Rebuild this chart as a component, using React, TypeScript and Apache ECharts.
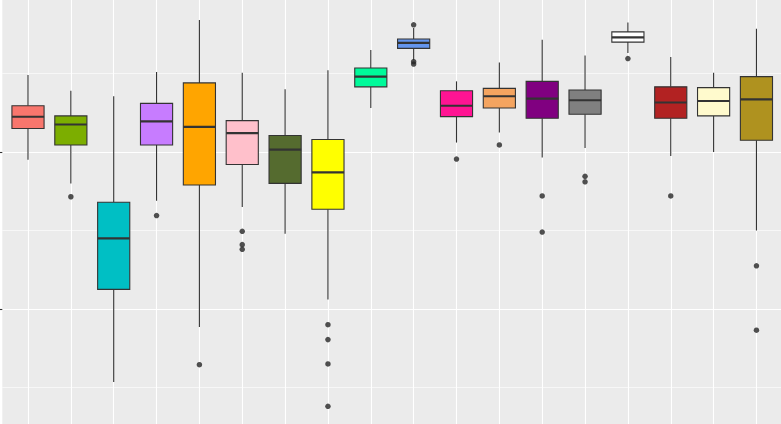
import React, { useEffect, useRef } from "react";
import * as echarts from "echarts";

// 18 groups (names are not visible in the reference)
const categories: string[] = [
  "g01", "g02", "g03", "g04", "g05", "g06", "g07", "g08", "g09",
  "g10", "g11", "g12", "g13", "g14", "g15", "g16", "g17", "g18",
];

const boxColors: string[] = [
  "#F8766D", "#7CAE00", "#00BFC4", "#C77CFF", "#FFA500", "#FFC0CB",
  "#556B2F", "#FFFF00", "#00FA9A", "#6495ED", "#FF1493", "#F4A460",
  "#800080", "#808080", "#FFFFFF", "#B22222", "#FFFACD", "#AF921F",
];

// [lower whisker, Q1, median, Q3, upper whisker]
const boxStats: number[][] = [
  [3.90, 4.30, 4.45, 4.59, 4.98],
  [3.60, 4.09, 4.35, 4.46, 4.78],
  [1.07, 2.25, 2.90, 3.36, 4.71],
  [3.38, 4.09, 4.39, 4.62, 5.02],
  [1.77, 3.58, 4.32, 4.88, 5.68],
  [3.30, 3.84, 4.24, 4.40, 5.01],
  [2.96, 3.60, 4.03, 4.21, 4.80],
  [2.12, 3.27, 3.74, 4.16, 5.04],
  [4.56, 4.83, 4.96, 5.07, 5.30],
  [5.17, 5.32, 5.39, 5.44, 5.58],
  [4.12, 4.45, 4.59, 4.78, 4.90],
  [4.25, 4.56, 4.71, 4.81, 5.14],
  [3.93, 4.43, 4.68, 4.90, 5.43],
  [4.05, 4.48, 4.66, 4.79, 5.23],
  [5.26, 5.40, 5.46, 5.53, 5.65],
  [3.95, 4.43, 4.63, 4.83, 5.21],
  [4.00, 4.46, 4.65, 4.82, 5.01],
  [3.00, 4.15, 4.67, 4.96, 5.57],
];

// outliers: [group index, value]
const outliers: number[][] = [
  [1, 3.43],
  [3, 3.19],
  [4, 1.29],
  [5, 2.99], [5, 2.82], [5, 2.76],
  [7, 1.80], [7, 1.61], [7, 1.30], [7, 0.76],
  [9, 5.62], [9, 5.15], [9, 5.12],
  [10, 3.91],
  [11, 4.09],
  [12, 3.44], [12, 2.98],
  [13, 3.69], [13, 3.62],
  [14, 5.19],
  [15, 3.44],
  [17, 2.55], [17, 1.73],
];

// half-step positions used to draw vertical grid lines at group centres
const halfSteps: string[] = Array.from({ length: 37 }, (_, k) => String(k));

const Y_MIN = 0;
const Y_MAX = 6;

export default function App() {
  const ref = useRef<HTMLDivElement>(null);

  useEffect(() => {
    if (!ref.current) return;
    const chart = echarts.init(ref.current, undefined, { renderer: "svg" });

    const band = 42.85;
    const left1 = 28 - band / 2;
    const width1 = band * categories.length;

    const boxData = boxStats.map((s, i) => ({
      value: [i, ...s],
      itemStyle: { color: boxColors[i] },
    }));

    const option: any = {
      animation: false,
      backgroundColor: "#FFFFFF",
      grid: [
        {
          left: 2.3,
          width: 780,
          top: -5,
          height: 471,
          show: true,
          backgroundColor: "#EBEBEB",
          borderWidth: 0,
          outerBoundsMode: "none",
        },
        {
          left: left1,
          width: width1,
          top: -5,
          height: 471,
          outerBoundsMode: "none",
        },
      ],
      xAxis: [
        { type: "value", gridIndex: 0, show: false, min: 0, max: 1 },
        {
          type: "category",
          gridIndex: 1,
          data: categories,
          boundaryGap: true,
          show: false,
        },
        {
          type: "category",
          gridIndex: 1,
          data: halfSteps,
          boundaryGap: false,
          position: "top",
          show: true,
          axisLine: { show: false },
          axisTick: { show: false },
          axisLabel: { show: false },
          splitLine: {
            show: true,
            interval: (idx: number) => idx % 2 === 1,
            lineStyle: { color: "#FFFFFF", width: 1.1 },
          },
        },
      ],
      yAxis: [
        {
          type: "value",
          gridIndex: 0,
          min: Y_MIN,
          max: Y_MAX,
          interval: 2,
          axisLine: { show: false },
          axisLabel: { show: false },
          axisTick: {
            show: true,
            length: 2.3,
            lineStyle: { color: "#333333", width: 1.1 },
          },
          splitLine: { show: true, lineStyle: { color: "#FFFFFF", width: 1.1 } },
          minorTick: { show: false, splitNumber: 2 },
          minorSplitLine: {
            show: true,
            lineStyle: { color: "#FFFFFF", width: 0.6 },
          },
        },
        {
          type: "value",
          gridIndex: 1,
          min: Y_MIN,
          max: Y_MAX,
          show: false,
        },
      ],
      series: [
        {
          type: "custom",
          xAxisIndex: 1,
          yAxisIndex: 1,
          data: boxData,
          z: 3,
          renderItem: (params: any, api: any) => {
            const x = api.value(0);
            const lo = api.coord([x, api.value(1)]);
            const q1 = api.coord([x, api.value(2)]);
            const med = api.coord([x, api.value(3)]);
            const q3 = api.coord([x, api.value(4)]);
            const hi = api.coord([x, api.value(5)]);
            const bw = api.size([1, 0])[0];
            const hw = bw * 0.375;
            const cx = med[0];
            const fill = api.visual("color");
            const stroke = "#333333";
            return {
              type: "group",
              children: [
                {
                  type: "line",
                  shape: { x1: cx, y1: hi[1], x2: cx, y2: q3[1] },
                  style: { stroke, lineWidth: 1.1 },
                },
                {
                  type: "line",
                  shape: { x1: cx, y1: q1[1], x2: cx, y2: lo[1] },
                  style: { stroke, lineWidth: 1.1 },
                },
                {
                  type: "rect",
                  shape: { x: cx - hw, y: q3[1], width: 2 * hw, height: q1[1] - q3[1] },
                  style: { fill, stroke, lineWidth: 1.1 },
                },
                {
                  type: "line",
                  shape: { x1: cx - hw, y1: med[1], x2: cx + hw, y2: med[1] },
                  style: { stroke, lineWidth: 2.1 },
                },
              ],
            };
          },
        },
        {
          type: "scatter",
          xAxisIndex: 1,
          yAxisIndex: 1,
          data: outliers,
          symbol: "circle",
          symbolSize: 5.5,
          itemStyle: { color: "#262626" },
          z: 4,
        },
      ],
    };

    chart.setOption(option);
    return () => chart.dispose();
  }, []);

  return (
    <div
      ref={ref}
      style={{ position: "fixed", left: 0, top: 0, width: 781, height: 424 }}
    />
  );
}
